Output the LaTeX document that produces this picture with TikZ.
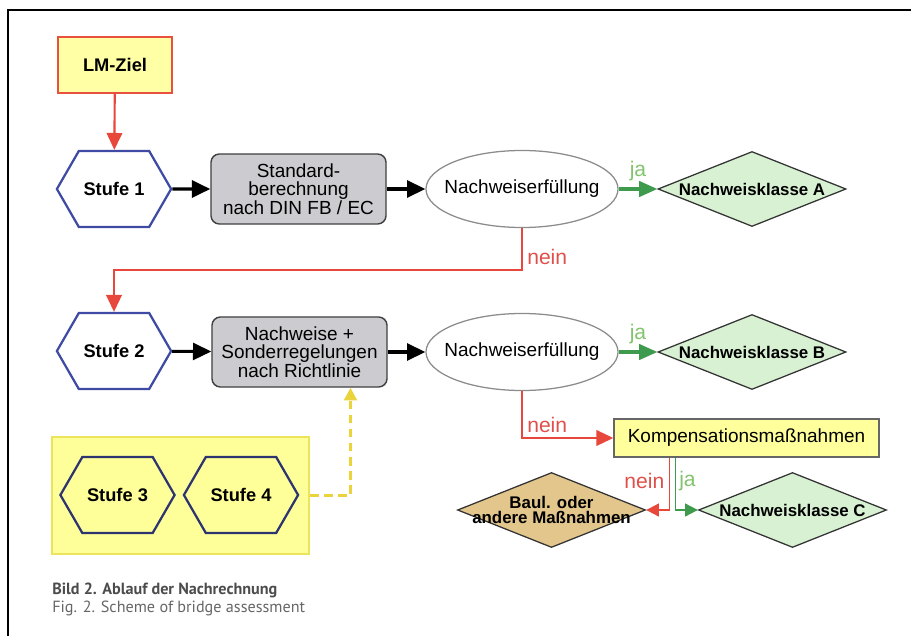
\documentclass[tikz,border=0pt]{standalone}
\usepackage{fontspec}
\setmainfont{Liberation Sans}
\newfontfamily\capfont{PT Sans}
\usetikzlibrary{shapes.geometric,shapes.symbols,arrows.meta,calc}
\definecolor{redcol}{HTML}{E8473B}
\definecolor{greencol}{HTML}{3E9A4C}
\definecolor{jacol}{HTML}{82C46E}
\definecolor{neincol}{HTML}{E0504A}
\definecolor{hexblue}{HTML}{3F4BA3}
\definecolor{hexnavy}{HTML}{2E3470}
\definecolor{boxgray}{HTML}{CBCBD0}
\definecolor{klgreen}{HTML}{D8F1D2}
\definecolor{bautan}{HTML}{E2C68C}
\definecolor{kompyellow}{HTML}{FFFF9C}
\definecolor{grpyellow}{HTML}{FFFF9A}
\definecolor{grpedge}{HTML}{ECE45A}
\definecolor{goalyellow}{HTML}{FFFFA6}
\definecolor{goaledge}{HTML}{E9513F}
\definecolor{dashyellow}{HTML}{EBD33C}
\begin{document}
\begin{tikzpicture}[
        x=0.025cm, y=-0.025cm,
        every node/.style={font=\fontsize{13.5}{12.5}\selectfont, align=center},
        goal/.style={rectangle, draw=goaledge, fill=goalyellow, line width=1.6pt,
            minimum width=2.85cm, minimum height=1.4cm, font=\bfseries\fontsize{13}{13}\selectfont},
        stufe/.style={signal, signal to=east and west, signal pointer angle=120,
            draw=hexblue, line width=1.6pt, minimum width=2.85cm, minimum height=1.9cm,
            font=\bfseries\fontsize{13}{13}\selectfont},
        calcbox/.style={rectangle, rounded corners=6pt, draw=black!75, fill=boxgray,
            line width=1pt, minimum width=4.375cm, minimum height=1.75cm},
        check/.style={ellipse, draw=black!45, fill=white, line width=0.9pt,
            inner xsep=-7pt, inner ysep=0pt, minimum width=4.8cm, minimum height=1.925cm},
        klasse/.style={diamond, aspect=2.5, inner sep=0pt, draw=black!80, fill=klgreen,
            line width=0.9pt, minimum width=4.7cm, minimum height=1.875cm,
            font=\bfseries\fontsize{12}{11}\selectfont},
        komp/.style={rectangle, draw=black!60, fill=kompyellow, line width=0.9pt,
            minimum width=6.625cm, minimum height=0.95cm},
        group/.style={rectangle, draw=grpedge, fill=grpyellow, line width=1.6pt,
            minimum width=6.425cm, minimum height=2.925cm},
        ja/.style={text=jacol, font=\fontsize{15}{15}\selectfont, inner sep=2pt},
        nein/.style={text=neincol, font=\fontsize{15}{15}\selectfont, inner sep=3pt},
        blackarrow/.style={draw=black, line width=2.2pt, -{Triangle[length=13pt,width=12pt]}},
        redarrow/.style={draw=redcol, line width=1.5pt, -{Triangle[length=12pt,width=11pt]}},
        greenarrow/.style={draw=greencol, line width=2.2pt, -{Triangle[length=13pt,width=11pt]}},
        smalltip/.style={line width=1.4pt, -{Triangle[length=9pt,width=9pt]}},
        dasharrow/.style={draw=dashyellow, line width=2pt, dash pattern=on 6pt off 4pt,
            -{Triangle[length=9pt,width=9pt]}},
    ]
    \useasboundingbox (0,0) rectangle (911,636);
    \draw[line width=1.5pt] (8,636) -- (8,10) -- (911,10);

    \node[goal] (lm) at (115,65) {LM-Ziel};
    \node[stufe] (s1) at (114,189) {Stufe 1};
    \node[calcbox] (std) at (298.5,189) {Standard-\\berechnung\\nach DIN FB / EC};
    \node[check] (nw1) at (522,189) {Nachweiserfüllung};
    \node[klasse] (ka) at (752,189) {Nachweisklasse A};

    \node[stufe] (s2) at (114,351) {Stufe 2};
    \node[calcbox] (nr) at (299.5,352) {Nachweise +\\Sonderregelungen\\nach Richtlinie};
    \node[check] (nw2) at (522,352) {Nachweiserfüllung};
    \node[klasse] (kb) at (752,352) {Nachweisklasse B};

    \node[group] (grp) at (180.5,495.5) {};
    \node[stufe, draw=hexnavy] (s3) at (117.5,495) {Stufe 3};
    \node[stufe, draw=hexnavy] (s4) at (241,495) {Stufe 4};

    \node[komp] (komp) at (746.5,438) {Kompensationsmaßnahmen};
    \node[klasse, fill=bautan, label={[font=\bfseries\fontsize{12}{11}\selectfont]center:{Baul. oder\\andere Maßnahmen}}] (baul) at (551.5,510) {};
    \node[klasse] (kc) at (792.5,510) {Nachweisklasse C};

    \draw[redarrow] (lm) -- (s1);
    \draw[blackarrow] (s1) -- (std);
    \draw[blackarrow] (std) -- (nw1);
    \draw[greenarrow] (nw1) -- node[ja, above=3pt]{ja} (ka);
    \draw[redarrow] (nw1.south) -- ++(0,42) node[nein, anchor=south west]{nein} -| (s2.north);

    \draw[blackarrow] (s2) -- (nr);
    \draw[blackarrow] (nr) -- (nw2);
    \draw[greenarrow] (nw2) -- node[ja, above=3pt]{ja} (kb);
    \draw[redarrow] (nw2.south) |- node[pos=0.5, nein, anchor=south west]{nein} (komp.west);

    \draw[redarrow, smalltip] ($(komp.south)+(-77,0)$) |- node[pos=0.22, nein, anchor=east]{nein} (baul.east);
    \draw[greenarrow, smalltip] ($(komp.south)+(-71,0)$) |- node[pos=0.22, ja, anchor=west]{ja} (kc.west);

    \draw[dasharrow] (grp.east) -| ($(nr.south)+(51,0)$);

    \node[anchor=base west, inner sep=0pt, text=black!70, font=\capfont\bfseries\fontsize{11.5}{11.5}\selectfont] (cap1) at (52,594) {Bild 2. Ablauf der Nachrechnung};
    \node[anchor=base west, inner sep=0pt, text=black!60, font=\capfont\fontsize{11.5}{11.5}\selectfont] (cap2) at (52,612) {Fig. 2. Scheme of bridge assessment};
\end{tikzpicture}
\end{document}
